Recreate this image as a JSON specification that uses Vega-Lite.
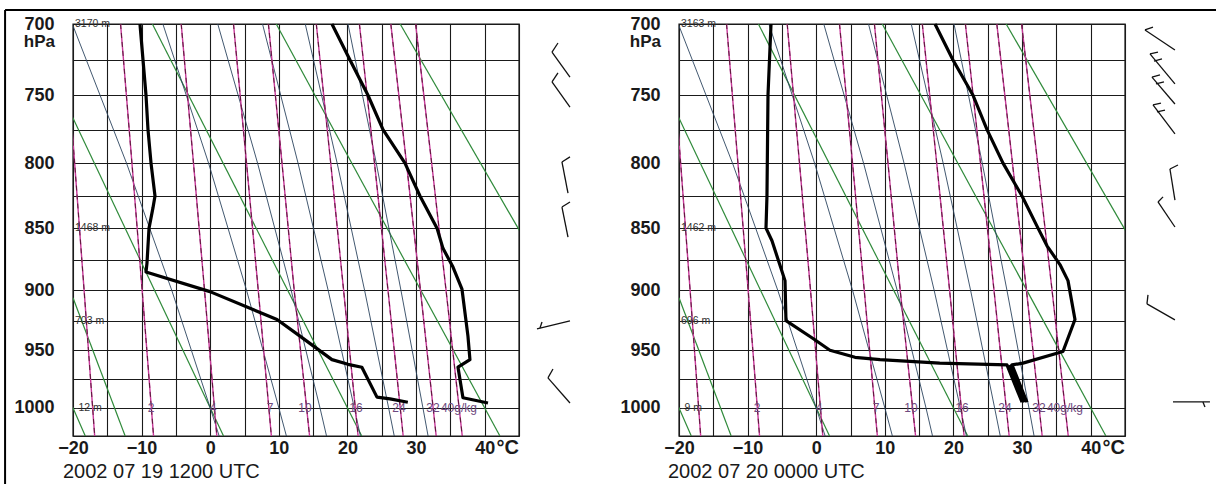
{
"$schema": "https://vega.github.io/schema/vega-lite/v6.json",
"autosize": {"type": "none"},
"padding": {"left": 73, "top": 24, "right": 1143, "bottom": 460},
"background": "white",
"spacing": 160,
"bounds": "flush",
"config": {"view": {"stroke": "#1a1a1a", "strokeWidth": 1.4}, "font": "Liberation Sans", "text": {"font": "Liberation Sans"}},
"datasets": {
"dry": [
{"id":"dm20","T":-44.55,"p":700},{"id":"dm20","T":-18.21,"p":1025},
{"id":"d0","T":-26.49,"p":700},{"id":"d0","T":1.94,"p":1025},
{"id":"d20","T":-8.43,"p":700},{"id":"d20","T":22.08,"p":1025},
{"id":"d40","T":9.62,"p":700},{"id":"d40","T":42.22,"p":1025},
{"id":"d60","T":27.68,"p":700},{"id":"d60","T":62.36,"p":1025},
{"id":"dx","T":-20,"p":906},{"id":"dx","T":-12.4,"p":1025}
],
"moist": [
{"id":"m0","T":-20.1,"p":700},{"id":"m0","T":-12.2,"p":800},{"id":"m0","T":-5.6,"p":900},{"id":"m0","T":0,"p":1000},{"id":"m0","T":1.3,"p":1025},
{"id":"m10","T":-6.9,"p":700},{"id":"m10","T":-0.24,"p":800},{"id":"m10","T":5.3,"p":900},{"id":"m10","T":10,"p":1000},{"id":"m10","T":11.1,"p":1025},
{"id":"m16","T":1.1,"p":700},{"id":"m16","T":6.9,"p":800},{"id":"m16","T":11.8,"p":900},{"id":"m16","T":16,"p":1000},{"id":"m16","T":16.95,"p":1025},
{"id":"m21","T":7.62,"p":700},{"id":"m21","T":12.8,"p":800},{"id":"m21","T":17.19,"p":900},{"id":"m21","T":21,"p":1000},{"id":"m21","T":21.89,"p":1025},
{"id":"m26","T":13.85,"p":700},{"id":"m26","T":18.5,"p":800},{"id":"m26","T":22.5,"p":900},{"id":"m26","T":26,"p":1000},{"id":"m26","T":26.82,"p":1025},
{"id":"m31","T":20.08,"p":700},{"id":"m31","T":24.2,"p":800},{"id":"m31","T":27.8,"p":900},{"id":"m31","T":31,"p":1000},{"id":"m31","T":31.75,"p":1025}
],
"mix": [
{"id":"w1","T":-21.30,"p":700},{"id":"w1","T":-19.76,"p":800},{"id":"w1","T":-18.38,"p":900},{"id":"w1","T":-16.84,"p":1025},
{"id":"w2","T":-13.07,"p":700},{"id":"w2","T":-11.41,"p":800},{"id":"w2","T":-9.92,"p":900},{"id":"w2","T":-8.26,"p":1025},
{"id":"w4","T":-4.23,"p":700},{"id":"w4","T":-2.44,"p":800},{"id":"w4","T":-0.83,"p":900},{"id":"w4","T":0.96,"p":1025},
{"id":"w7","T":3.39,"p":700},{"id":"w7","T":5.29,"p":800},{"id":"w7","T":7.00,"p":900},{"id":"w7","T":8.91,"p":1025},
{"id":"w10","T":8.48,"p":700},{"id":"w10","T":10.46,"p":800},{"id":"w10","T":12.24,"p":900},{"id":"w10","T":14.48,"p":1025},
{"id":"w16","T":15.46,"p":700},{"id":"w16","T":17.56,"p":800},{"id":"w16","T":19.44,"p":900},{"id":"w16","T":21.55,"p":1025},
{"id":"w24","T":21.74,"p":700},{"id":"w24","T":23.94,"p":800},{"id":"w24","T":25.91,"p":900},{"id":"w24","T":28.12,"p":1025},
{"id":"w32","T":26.32,"p":700},{"id":"w32","T":28.60,"p":800},{"id":"w32","T":30.64,"p":900},{"id":"w32","T":32.93,"p":1025},
{"id":"w40","T":29.93,"p":700},{"id":"w40","T":32.27,"p":800},{"id":"w40","T":34.37,"p":900},{"id":"w40","T":36.73,"p":1025}
],
"mixlab": [
{"t":"2","T":-8.63,"p":1000},{"t":"4","T":0.4,"p":1000},{"t":"7","T":8.71,"p":1000},{"t":"10","T":13.81,"p":1000},
{"t":"16","T":21.24,"p":1000},{"t":"24","T":27.5,"p":1000},{"t":"32","T":32.46,"p":1000},{"t":"40g/kg","T":36.25,"p":1000}
],
"profL": [
{"s":"T","T":17.74,"p":700},{"s":"T","T":20.37,"p":725},{"s":"T","T":22.99,"p":750},{"s":"T","T":25.18,"p":775},{"s":"T","T":28.38,"p":800},{"s":"T","T":30.57,"p":825},{"s":"T","T":33.05,"p":850},{"s":"T","T":33.92,"p":866},{"s":"T","T":35.38,"p":881},{"s":"T","T":36.69,"p":899},{"s":"T","T":37.56,"p":938},{"s":"T","T":37.85,"p":958},{"s":"T","T":36.11,"p":964.5},{"s":"T","T":36.83,"p":991},{"s":"T","T":40.48,"p":995.6},
{"s":"Td","T":-10.24,"p":700},{"s":"Td","T":-9.36,"p":750},{"s":"Td","T":-9.07,"p":775},{"s":"Td","T":-8.63,"p":800},{"s":"Td","T":-8.05,"p":825},{"s":"Td","T":-8.34,"p":834},{"s":"Td","T":-8.92,"p":850},{"s":"Td","T":-9.22,"p":878},{"s":"Td","T":-9.36,"p":885},{"s":"Td","T":-0.04,"p":901},{"s":"Td","T":9.73,"p":924},{"s":"Td","T":13.08,"p":938},{"s":"Td","T":17.74,"p":958},{"s":"Td","T":20.08,"p":962},{"s":"Td","T":22.1,"p":964.5},{"s":"Td","T":24.3,"p":990.5},{"s":"Td","T":26.2,"p":992},{"s":"Td","T":28.8,"p":995}
],
"profR": [
{"s":"T","T":17.31,"p":700},{"s":"T","T":19.93,"p":725},{"s":"T","T":22.85,"p":750},{"s":"T","T":24.89,"p":775},{"s":"T","T":27.22,"p":800},{"s":"T","T":29.99,"p":825},{"s":"T","T":32.32,"p":850},{"s":"T","T":33.63,"p":864},{"s":"T","T":35.52,"p":879},{"s":"T","T":36.69,"p":892},{"s":"T","T":37.71,"p":924},{"s":"T","T":35.96,"p":951},{"s":"T","T":30.13,"p":961},{"s":"T","T":28.53,"p":962.5},{"s":"T","T":30.71,"p":995},
{"s":"Td","T":-6.59,"p":700},{"s":"Td","T":-7.03,"p":750},{"s":"Td","T":-7.18,"p":825},{"s":"Td","T":-7.32,"p":850},{"s":"Td","T":-6.45,"p":860},{"s":"Td","T":-4.55,"p":892},{"s":"Td","T":-4.41,"p":925},{"s":"Td","T":-0.47,"p":940},{"s":"Td","T":2.0,"p":950},{"s":"Td","T":5.65,"p":956},{"s":"Td","T":9.29,"p":958},{"s":"Td","T":18.0,"p":961},{"s":"Td","T":27.8,"p":962.5},{"s":"Td","T":30.0,"p":995},
{"s":"H","T":28.2,"p":962.5},{"s":"H","T":30.35,"p":995}
],
"barbL": [
{"T":52.43,"p":737.0,"T2":49.81,"p2":719.4},{"T":49.81,"p":719.4,"T2":50.68,"p2":713.1},
{"T":52.43,"p":758.5,"T2":49.81,"p2":740.5},{"T":49.81,"p":740.5,"T2":50.68,"p2":734.1},
{"T":52.14,"p":822.7,"T2":51.26,"p2":799.1},{"T":51.26,"p":799.1,"T2":52.43,"p2":795.3},
{"T":52.14,"p":857.0,"T2":51.26,"p2":833.5},{"T":51.26,"p":833.5,"T2":52.43,"p2":829.6},
{"T":52.43,"p":925.2,"T2":47.62,"p2":931.9},{"T":48.06,"p":931.1,"T2":48.35,"p2":926.1},
{"T":52.43,"p":995.6,"T2":49.22,"p2":973.7},{"T":49.22,"p":973.7,"T2":49.95,"p2":966.0}
],
"barbR": [
{"T":52.28,"p":717.96,"T2":47.91,"p2":704.1},{"T":47.91,"p":704.1,"T2":49.08,"p2":702.1},
{"T":52.28,"p":741.9,"T2":48.64,"p2":720.7},{"T":48.64,"p":720.7,"T2":49.81,"p2":719.4},{"T":49.22,"p":725.7,"T2":50.39,"p2":724.2},
{"T":52.28,"p":756.3,"T2":48.93,"p2":737.0},{"T":48.93,"p":737.0,"T2":50.10,"p2":735.5},{"T":49.51,"p":741.9,"T2":50.68,"p2":740.5},
{"T":52.28,"p":778.2,"T2":49.08,"p2":757.0},{"T":49.08,"p":757.0,"T2":50.24,"p2":755.6},{"T":49.66,"p":762.1,"T2":50.83,"p2":760.7},
{"T":52.28,"p":828.1,"T2":51.55,"p2":804.4},{"T":51.55,"p":804.4,"T2":52.72,"p2":801.4},
{"T":52.28,"p":849.1,"T2":49.81,"p2":829.6},{"T":49.81,"p":829.6,"T2":50.54,"p2":825.7},
{"T":52.28,"p":924.4,"T2":48.20,"p2":911.1},{"T":48.20,"p":911.1,"T2":48.35,"p2":903.7},
{"T":51.99,"p":994.7,"T2":57.38,"p2":994.7},{"T":56.36,"p":994.7,"T2":56.65,"p2":999.1}
],
"frame": [
{"T":-29.9,"p":690.4,"T2":-29.9,"p2":1069},
{"T":-29.9,"p":690.4,"T2":146.6,"p2":690.4}
]
},
"hconcat": [
{
"width": 446, "height": 412,
"encoding": {
"x": {"field": "T", "type": "quantitative", "scale": {"domain": [-20, 45], "nice": false, "zero": false},
 "axis": {"values": [-20,-15,-10,-5,0,5,10,15,20,25,30,35,40,45], "format": "d", "labelExpr": "datum.value % 10 === 0 && datum.value <= 40 ? datum.label : ''", "grid": true, "gridColor": "#1a1a1a", "gridWidth": 1.1, "gridOpacity": 1, "ticks": false, "tickSize": 0, "domain": false, "labelFontSize": 18, "labelFontWeight": "bold", "labelColor": "#1a1a1a", "labelPadding": 3, "labelFlush": false, "labelOverlap": false, "title": null}},
"y": {"field": "p", "type": "quantitative", "scale": {"type": "pow", "exponent": 0.286, "domain": [700, 1025], "reverse": true, "nice": false, "zero": false},
 "axis": {"values": [700,725,750,775,800,825,850,875,900,925,950,975,1000,1025], "format": "d", "labelExpr": "datum.value % 50 === 0 && datum.value <= 1000 ? datum.label : ''", "grid": true, "gridColor": "#1a1a1a", "gridWidth": 1.1, "gridOpacity": 1, "ticks": false, "tickSize": 0, "domain": false, "labelFontSize": 18, "labelFontWeight": "bold", "labelColor": "#1a1a1a", "labelPadding": 19, "labelOverlap": false, "title": null}}
},
"layer": [
{"data": {"name": "dry"}, "mark": {"type": "line", "clip": true, "color": "#2f8a3a", "strokeWidth": 1.2}, "encoding": {"detail": {"field": "id"}, "order": {"field": "p"}}},
{"data": {"name": "moist"}, "mark": {"type": "line", "clip": true, "color": "#2c4560", "strokeWidth": 0.9}, "encoding": {"detail": {"field": "id"}, "order": {"field": "p"}}},
{"data": {"name": "mix"}, "mark": {"type": "line", "clip": true, "color": "#c8389a", "strokeWidth": 1.4}, "encoding": {"detail": {"field": "id"}, "order": {"field": "p"}}},
{"data": {"name": "mix"}, "mark": {"type": "line", "clip": true, "color": "#5a1838", "strokeWidth": 1, "strokeDash": [5, 4]}, "encoding": {"detail": {"field": "id"}, "order": {"field": "p"}}},
{"data": {"name": "profL"}, "mark": {"type": "line", "color": "#000000", "strokeWidth": 3.2, "strokeJoin": "round"}, "encoding": {"detail": {"field": "s"}, "order": {"field": "p"}}},
{"data": {"name": "mixlab"}, "mark": {"type": "text", "fontSize": 12, "color": "#6e4a80", "baseline": "middle"}, "encoding": {"text": {"field": "t"}}},
{"data": {"values": [{"t":"3170 m","T":-20,"p":700},{"t":"1468 m","T":-20,"p":850},{"t":"703 m","T":-20,"p":925},{"t":"-12 m","T":-20,"p":1000}]}, "mark": {"type": "text", "fontSize": 10.5, "color": "#333333", "align": "left", "dx": 2, "baseline": "middle"}, "encoding": {"text": {"field": "t"}}},
{"data": {"values": [{"t":"hPa","T":-20,"p":700}]}, "mark": {"type": "text", "fontSize": 17, "fontWeight": "bold", "color": "#1a1a1a", "align": "right", "dx": -18, "dy": 18, "baseline": "middle"}, "encoding": {"text": {"field": "t"}}},
{"data": {"values": [{"t":"°C","T":45,"p":1025}]}, "mark": {"type": "text", "fontSize": 20, "fontWeight": "bold", "color": "#1a1a1a", "align": "right", "dy": 12, "baseline": "middle"}, "encoding": {"text": {"field": "t"}}},
{"data": {"values": [{"t":"2002 07 19 1200 UTC","T":-20,"p":1025}]}, "mark": {"type": "text", "fontSize": 20, "color": "#1a1a1a", "align": "left", "dx": -10, "dy": 36, "baseline": "middle"}, "encoding": {"text": {"field": "t"}}},
{"data": {"name": "barbL"}, "mark": {"type": "rule", "color": "#111111", "strokeWidth": 1.3}, "encoding": {"x2": {"field": "T2"}, "y2": {"field": "p2"}}},
{"data": {"name": "frame"}, "mark": {"type": "rule", "color": "#000000", "strokeWidth": 2}, "encoding": {"x2": {"field": "T2"}, "y2": {"field": "p2"}}}
]
},
{
"width": 446, "height": 412,
"encoding": {
"x": {"field": "T", "type": "quantitative", "scale": {"domain": [-20, 45], "nice": false, "zero": false},
 "axis": {"values": [-20,-15,-10,-5,0,5,10,15,20,25,30,35,40,45], "format": "d", "labelExpr": "datum.value % 10 === 0 && datum.value <= 40 ? datum.label : ''", "grid": true, "gridColor": "#1a1a1a", "gridWidth": 1.1, "gridOpacity": 1, "ticks": false, "tickSize": 0, "domain": false, "labelFontSize": 18, "labelFontWeight": "bold", "labelColor": "#1a1a1a", "labelPadding": 3, "labelFlush": false, "labelOverlap": false, "title": null}},
"y": {"field": "p", "type": "quantitative", "scale": {"type": "pow", "exponent": 0.286, "domain": [700, 1025], "reverse": true, "nice": false, "zero": false},
 "axis": {"values": [700,725,750,775,800,825,850,875,900,925,950,975,1000,1025], "format": "d", "labelExpr": "datum.value % 50 === 0 && datum.value <= 1000 ? datum.label : ''", "grid": true, "gridColor": "#1a1a1a", "gridWidth": 1.1, "gridOpacity": 1, "ticks": false, "tickSize": 0, "domain": false, "labelFontSize": 18, "labelFontWeight": "bold", "labelColor": "#1a1a1a", "labelPadding": 19, "labelOverlap": false, "title": null}}
},
"layer": [
{"data": {"name": "dry"}, "mark": {"type": "line", "clip": true, "color": "#2f8a3a", "strokeWidth": 1.2}, "encoding": {"detail": {"field": "id"}, "order": {"field": "p"}}},
{"data": {"name": "moist"}, "mark": {"type": "line", "clip": true, "color": "#2c4560", "strokeWidth": 0.9}, "encoding": {"detail": {"field": "id"}, "order": {"field": "p"}}},
{"data": {"name": "mix"}, "mark": {"type": "line", "clip": true, "color": "#c8389a", "strokeWidth": 1.4}, "encoding": {"detail": {"field": "id"}, "order": {"field": "p"}}},
{"data": {"name": "mix"}, "mark": {"type": "line", "clip": true, "color": "#5a1838", "strokeWidth": 1, "strokeDash": [5, 4]}, "encoding": {"detail": {"field": "id"}, "order": {"field": "p"}}},
{"data": {"name": "profR"}, "mark": {"type": "line", "color": "#000000", "strokeWidth": 3.2, "strokeJoin": "round"}, "encoding": {"detail": {"field": "s"}, "order": {"field": "p"}}},
{"data": {"name": "mixlab"}, "mark": {"type": "text", "fontSize": 12, "color": "#6e4a80", "baseline": "middle"}, "encoding": {"text": {"field": "t"}}},
{"data": {"values": [{"t":"3163 m","T":-20,"p":700},{"t":"1462 m","T":-20,"p":850},{"t":"696 m","T":-20,"p":925},{"t":"-9 m","T":-20,"p":1000}]}, "mark": {"type": "text", "fontSize": 10.5, "color": "#333333", "align": "left", "dx": 2, "baseline": "middle"}, "encoding": {"text": {"field": "t"}}},
{"data": {"values": [{"t":"hPa","T":-20,"p":700}]}, "mark": {"type": "text", "fontSize": 17, "fontWeight": "bold", "color": "#1a1a1a", "align": "right", "dx": -18, "dy": 18, "baseline": "middle"}, "encoding": {"text": {"field": "t"}}},
{"data": {"values": [{"t":"°C","T":45,"p":1025}]}, "mark": {"type": "text", "fontSize": 20, "fontWeight": "bold", "color": "#1a1a1a", "align": "right", "dy": 12, "baseline": "middle"}, "encoding": {"text": {"field": "t"}}},
{"data": {"values": [{"t":"2002 07 20 0000 UTC","T":-20,"p":1025}]}, "mark": {"type": "text", "fontSize": 20, "color": "#1a1a1a", "align": "left", "dx": -11, "dy": 36, "baseline": "middle"}, "encoding": {"text": {"field": "t"}}},
{"data": {"name": "barbR"}, "mark": {"type": "rule", "color": "#111111", "strokeWidth": 1.3}, "encoding": {"x2": {"field": "T2"}, "y2": {"field": "p2"}}}
]
}
]
}
